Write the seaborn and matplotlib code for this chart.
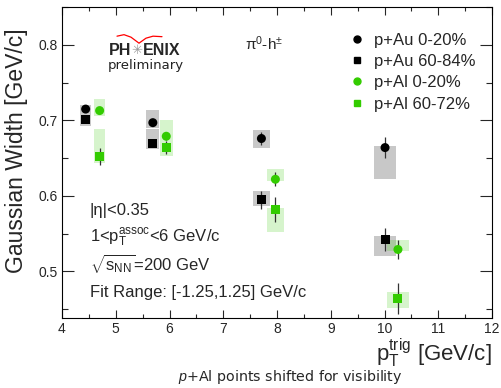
import numpy as np
import pandas as pd
import matplotlib
matplotlib.use("Agg")
import matplotlib.pyplot as plt
import seaborn as sns
from matplotlib.lines import Line2D
from matplotlib.ticker import MultipleLocator

# trigger pT (p+Al shifted right for visibility)
pt_au = [4.44, 5.69, 7.71, 10.01]
pt_al = [4.70, 5.94, 7.97, 10.25]
box_hw = [0.10, 0.12, 0.16, 0.20]

# p+Au 0-20%
au_c = [0.715, 0.697, 0.676, 0.664]
au_c_stat = [0.004, 0.004, 0.009, 0.014]
au_c_sys_up = [0.005, 0.017, 0.011, 0.002]
au_c_sys_dn = [0.005, 0.007, 0.013, 0.041]

# p+Au 60-84%
au_p = [0.701, 0.670, 0.595, 0.542]
au_p_stat = [0.005, 0.005, 0.012, 0.015]
au_p_sys_up = [0.009, 0.019, 0.012, 0.005]
au_p_sys_dn = [0.009, 0.008, 0.009, 0.022]

# p+Al 0-20%
al_c = [0.713, 0.679, 0.622, 0.529]
al_c_stat = [0.003, 0.005, 0.009, 0.013]
al_c_sys_up = [0.016, 0.022, 0.013, 0.013]
al_c_sys_dn = [0.007, 0.005, 0.002, 0.002]

# p+Al 60-72%
al_p = [0.652, 0.664, 0.582, 0.464]
al_p_stat = [0.011, 0.009, 0.017, 0.021]
al_p_sys_up = [0.037, 0.010, 0.002, 0.008]
al_p_sys_dn = [0.009, 0.011, 0.030, 0.013]

labels = ["p+Au 0-20%", "p+Au 60-84%", "p+Al 0-20%", "p+Al 60-72%"]

green = "#33cc00"
series = [
    (labels[0], pt_au, au_c, au_c_stat, au_c_sys_up, au_c_sys_dn, "black", "o", "#c8c8c8"),
    (labels[1], pt_au, au_p, au_p_stat, au_p_sys_up, au_p_sys_dn, "black", "s", "#c8c8c8"),
    (labels[2], pt_al, al_c, al_c_stat, al_c_sys_up, al_c_sys_dn, green, "o", (0.2, 0.8, 0.0, 0.2)),
    (labels[3], pt_al, al_p, al_p_stat, al_p_sys_up, al_p_sys_dn, green, "s", (0.2, 0.8, 0.0, 0.2)),
]

sns.set_style("ticks")
plt.rcParams["font.family"] = ["Liberation Sans", "DejaVu Sans"]
plt.rcParams["mathtext.fontset"] = "custom"
plt.rcParams["mathtext.rm"] = "Liberation Sans"
plt.rcParams["mathtext.it"] = "Liberation Sans:italic"
plt.rcParams["mathtext.sf"] = "Liberation Sans"
plt.rcParams["mathtext.bf"] = "Liberation Sans:bold"

fig = plt.figure(figsize=(5.02, 3.88), dpi=100)
ax = fig.add_axes([0.1235, 0.180, 0.8566, 0.8015])

rows = []
for lab, pt, val, *_ in series:
    for p, v in zip(pt, val):
        rows.append({"series": lab, "pt": p, "width": v})
df = pd.DataFrame(rows)

# systematic boxes and stat bars
for lab, pt, val, stat, up, dn, col, mk, bcol in series:
    val = np.array(val)
    up = np.array(up)
    dn = np.array(dn)
    ax.bar(pt, up + dn, bottom=val - dn, width=2 * np.array(box_hw),
           color=bcol, linewidth=0, zorder=1)
    ax.errorbar(pt, val, yerr=stat, fmt="none", ecolor="#333333",
                elinewidth=0.9, zorder=3)

palette = {s[0]: s[6] for s in series}
markers = {s[0]: s[7] for s in series}
sns.scatterplot(data=df, x="pt", y="width", hue="series", style="series",
                palette=palette, markers=markers, s=42, linewidth=0,
                legend=False, zorder=4, ax=ax)

ax.set_xlim(4, 12)
ax.set_ylim(0.438, 0.85)
ax.xaxis.set_major_locator(MultipleLocator(1))
ax.xaxis.set_minor_locator(MultipleLocator(0.5))
ax.yaxis.set_major_locator(MultipleLocator(0.1))
ax.yaxis.set_minor_locator(MultipleLocator(0.05))
ax.yaxis.set_major_formatter(matplotlib.ticker.FormatStrFormatter("%.1f"))
ax.tick_params(which="both", direction="in", top=True, right=True,
               width=0.8, labelsize=10, pad=3)
ax.tick_params(axis="x", which="major", length=5.8)
ax.tick_params(axis="x", which="minor", length=2.9)
ax.tick_params(axis="y", which="major", length=8.6)
ax.tick_params(axis="y", which="minor", length=4.3)
for sp in ax.spines.values():
    sp.set_linewidth(0.8)
    sp.set_color("black")

ax.set_xlabel(r"p$_{\mathregular{T}}^{\mathregular{trig}}$ [GeV/c]",
              fontsize=16, loc="right", labelpad=0)
ax.set_ylabel("Gaussian Width [GeV/c]", fontsize=16.5)
ax.yaxis.set_label_coords(-0.08, 0.537)

handles = [Line2D([], [], marker=s[7], color=s[6], linestyle="none",
                  markersize=5) for s in series]
ax.legend(handles=handles, labels=labels, loc="upper left",
          bbox_to_anchor=(0.655, 0.94), frameon=False, fontsize=12,
          handlelength=0.8, handletextpad=0.6, labelspacing=0.38,
          borderaxespad=0)

ax.text(0.47, 0.884, r"π$^{\mathregular{0}}$-h$^{\mathregular{\pm}}$",
        transform=ax.transAxes, ha="center", va="center", fontsize=11)

# PHENIX logo
ax.text(0.160, 0.860, "PH", transform=ax.transAxes, ha="right", va="center",
        fontsize=11.5, fontweight="bold")
ax.text(0.1745, 0.862, "✳", transform=ax.transAxes, ha="center", va="center",
        fontsize=9.5, color="#999999", family=["DejaVu Sans"])
ax.text(0.189, 0.860, "ENIX", transform=ax.transAxes, ha="left", va="center",
        fontsize=11.5, fontweight="bold")
ax.text(0.195, 0.812, "preliminary", transform=ax.transAxes, ha="center",
        va="center", fontsize=9.5, family=["DejaVu Sans"], color="#222222")
arc_px = np.array([[117, 36], [124, 34.5], [131, 37], [139, 43],
                   [146, 38], [153, 36], [162, 36.5]])
ax.plot((arc_px[:, 0] - 62) / 430, (318 - arc_px[:, 1]) / 311, color="red",
        lw=0.9, transform=ax.transAxes, zorder=5)

txt_x = 0.065
ax.text(txt_x, 0.331, "|η|<0.35", transform=ax.transAxes, fontsize=12, va="baseline")
ax.text(txt_x, 0.244, r"1<p$_{\mathregular{T}}^{\mathregular{assoc}}$<6 GeV/c",
        transform=ax.transAxes, fontsize=12, va="baseline")
ax.text(txt_x, 0.154, r"$\sqrt{\mathregular{s}_{\mathregular{NN}}}$=200 GeV",
        transform=ax.transAxes, fontsize=12, va="baseline")
ax.text(txt_x, 0.068, "Fit Range: [-1.25,1.25] GeV/c",
        transform=ax.transAxes, fontsize=12, va="baseline")

fig.text(0.578, 1 - 377 / 388, r"$p$+Al points shifted for visibility",
         ha="center", va="center", fontsize=10.3, family=["DejaVu Sans"])

fig.savefig("out.png", dpi=100)
